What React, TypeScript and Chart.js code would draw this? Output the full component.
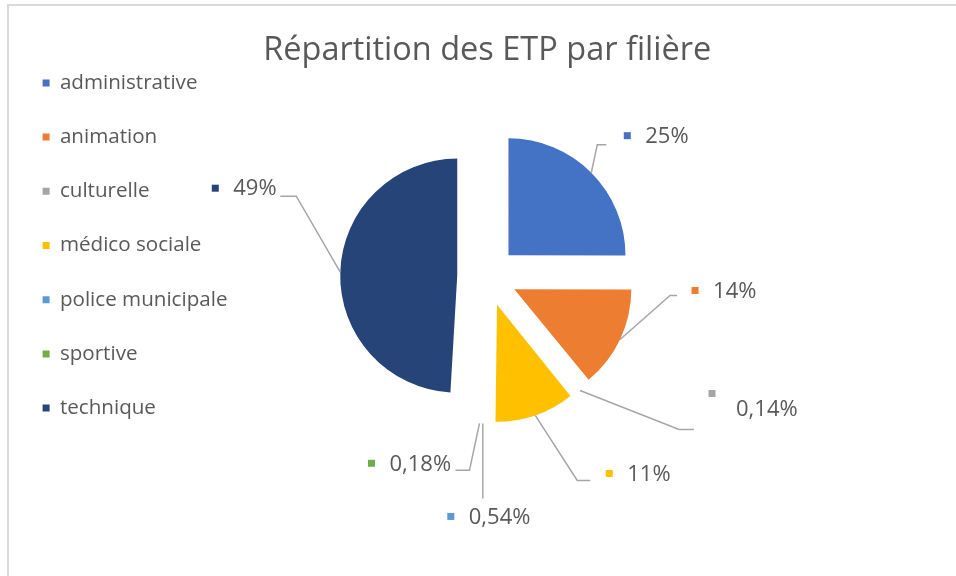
import React, { useEffect, useRef } from "react";
import { Chart, registerables } from "chart.js";

Chart.register(...registerables);

// ---- data ----
const CATEGORIES = [
  "administrative",
  "animation",
  "culturelle",
  "médico sociale",
  "police municipale",
  "sportive",
  "technique",
];
const SHARES = [25, 14, 0.14, 11, 0.54, 0.18, 49];
const COLORS = ["#4472C4", "#ED7D31", "#A5A5A5", "#FFC000", "#5B9BD5", "#70AD47", "#264478"];
const TITLE = "Répartition des ETP par filière";

// ---- style / layout ----
const FONT = "'Open Sans', 'Noto Sans', sans-serif";
const TEXT_COLOR = "#595959";
const LEADER_COLOR = "#A6A6A6";
const EXPLODE = 30;
const RADIUS = 117;

// label placement relative to each slice's outer-edge midpoint
const LABEL_LAYOUT = [
  { sq: [36, -37], text: [18, 1], leader: [[6, -28], [15, -28]] },
  { sq: [75, -49], text: [18, 1], leader: [[50, -44], [57, -44]] },
  { sq: [132, 3], text: [24, 16], leader: [[99, 39], [114, 39]] },
  { sq: [74, 58], text: [18, 1], leader: [[42, 65], [55, 65]] },
  { sq: [-32, 93], text: [18, 1], leader: [[0, 75]] },
  { sq: [-108, 40], text: [18, 1], leader: [[-10, 47], [-24, 47]] },
  { sq: [-125, -84], text: [18, 1], leader: [[-44, -76], [-60, -76]] },
];

function fmt(v: number): string {
  if (v < 1) return v.toFixed(2).replace(".", ",") + "%";
  return Math.round(v) + "%";
}

const explodePlugin = {
  id: "explodeSlices",
  beforeDatasetsDraw(chart: any) {
    const meta = chart.getDatasetMeta(0);
    const { left, right, top, bottom } = chart.chartArea;
    const cx = (left + right) / 2;
    const cy = (top + bottom) / 2;
    meta.data.forEach((arc: any) => {
      const mid = (arc.startAngle + arc.endAngle) / 2;
      arc.x = cx + EXPLODE * Math.cos(mid);
      arc.y = cy + EXPLODE * Math.sin(mid);
    });
  },
};

const labelPlugin = {
  id: "sliceLabels",
  afterDatasetsDraw(chart: any) {
    const ctx = chart.ctx;
    const meta = chart.getDatasetMeta(0);
    const values = chart.data.datasets[0].data as number[];
    ctx.save();
    meta.data.forEach((arc: any, i: number) => {
      const L = LABEL_LAYOUT[i];
      const mid = (arc.startAngle + arc.endAngle) / 2;
      const ax = arc.x + arc.outerRadius * Math.cos(mid);
      const ay = arc.y + arc.outerRadius * Math.sin(mid);
      ctx.strokeStyle = LEADER_COLOR;
      ctx.lineWidth = 1.5;
      ctx.beginPath();
      ctx.moveTo(ax, ay);
      L.leader.forEach(([dx, dy]) => ctx.lineTo(ax + dx, ay + dy));
      ctx.stroke();
      const sx = ax + L.sq[0];
      const sy = ay + L.sq[1];
      ctx.fillStyle = COLORS[i];
      ctx.fillRect(sx - 3.5, sy - 3.5, 7, 7);
      ctx.fillStyle = TEXT_COLOR;
      ctx.font = `22px ${FONT}`;
      ctx.textBaseline = "middle";
      ctx.textAlign = "left";
      ctx.fillText(fmt(values[i]), sx + L.text[0], sy + L.text[1]);
    });
    ctx.restore();
  },
};

export default function App() {
  const ref = useRef<HTMLCanvasElement>(null);

  useEffect(() => {
    if (!ref.current) return;
    const chart = new Chart(ref.current, {
      type: "pie",
      data: {
        labels: CATEGORIES,
        datasets: [
          {
            data: SHARES,
            backgroundColor: COLORS,
            borderColor: "#ffffff",
            borderWidth: (c: any) => (c.raw < 1 ? 4 : 0),
            radius: RADIUS,
          } as any,
        ],
      },
      options: {
        responsive: false,
        animation: false,
        events: [],
        layout: { padding: { left: 9, top: 39, right: 219, bottom: 93 } },
        plugins: {
          title: {
            display: true,
            text: TITLE,
            fullSize: false,
            color: TEXT_COLOR,
            font: { family: FONT, size: 32.5, weight: "normal" },
            padding: { top: -8, bottom: 0 },
          },
          legend: {
            position: "left",
            align: "start",
            labels: {
              boxWidth: 7,
              boxHeight: 7,
              padding: 33.6,
              color: TEXT_COLOR,
              font: { family: FONT, size: 20.6 },
              generateLabels: (chart: any) =>
                chart.data.labels.map((text: string, i: number) => ({
                  text,
                  fillStyle: COLORS[i],
                  strokeStyle: COLORS[i],
                  fontColor: TEXT_COLOR,
                  lineWidth: 0,
                  hidden: false,
                  index: i,
                })),
            },
          },
          tooltip: { enabled: false },
        },
      } as any,
      plugins: [explodePlugin, labelPlugin],
    });
    return () => chart.destroy();
  }, []);

  return (
    <div style={{ position: "fixed", left: 0, top: 0, width: 956, height: 576, background: "#fff" }}>
      <div
        style={{
          position: "absolute",
          left: 7,
          top: 4,
          right: -5,
          bottom: -5,
          borderLeft: "2px solid #d9d9d9",
          borderTop: "2px solid #d9d9d9",
        }}
      />
      <canvas ref={ref} width={956} height={576} style={{ position: "absolute", left: 0, top: 0 }} />
    </div>
  );
}
